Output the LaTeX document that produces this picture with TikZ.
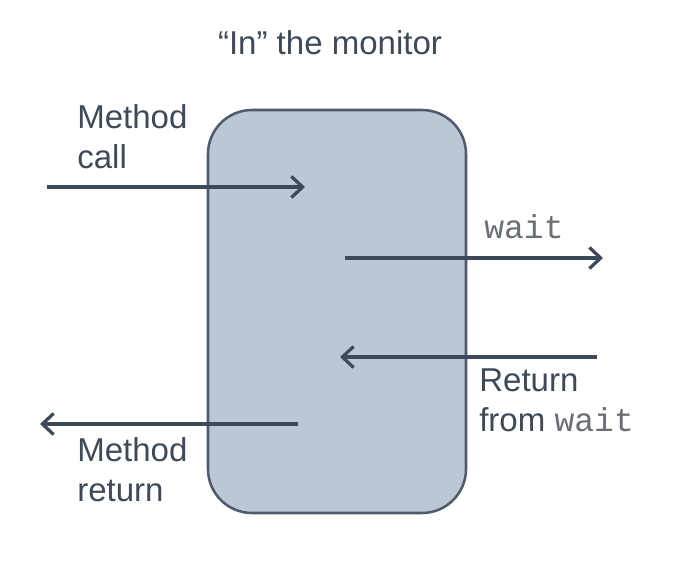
\documentclass[tikz,border=0pt]{standalone}
\usepackage{fontspec}
\setmainfont{Liberation Sans}
\setmonofont{Liberation Mono}
\usepackage{xcolor}
\definecolor{monfill}{HTML}{BDC6D3}
\definecolor{mondraw}{HTML}{4F5B6C}
\definecolor{flowcol}{HTML}{3D4859}
\definecolor{txtcol}{HTML}{3F4A59}
\definecolor{codecol}{HTML}{6A6E75}
\usetikzlibrary{arrows.meta,positioning}
\tikzset{
  lbl/.style={inner sep=0pt, align=left, text=txtcol, font=\fontsize{23.5pt}{29pt}\selectfont},
  flow/.style={-{Straight Barb[length=8pt,width=15pt,line width=2.3pt]}, line width=2.3pt, flowcol},
  monitor/.style={draw=mondraw, line width=1.8pt, fill=monfill, rounded corners=1.1cm, minimum width=6.45cm, minimum height=10.075cm}
}
\newcommand{\kw}[1]{{\ttfamily\color{codecol}#1}}

\begin{document}
\begin{tikzpicture}
  \useasboundingbox (0,0) rectangle (16.95,14.05);

  %% Title
  \node[lbl, anchor=base] (title) at (8.25,12.675) {“In” the monitor};

  %% The monitor
  \node[monitor] (mon) at (8.425,6.2625) {};

  %% Arrow ends
  \coordinate (callA) at (1.175,9.375);  \coordinate (callB) at (7.625,9.375);
  \coordinate (waitA) at (8.625,7.6);    \coordinate (waitB) at (15.075,7.6);
  \coordinate (backA) at (14.925,5.125); \coordinate (backB) at (8.5,5.125);
  \coordinate (retA)  at (7.45,3.45);    \coordinate (retB)  at (1.0,3.45);

  \draw[flow] (callA) -- (callB);
  \draw[flow] (waitA) -- (waitB);
  \draw[flow] (backA) -- (backB);
  \draw[flow] (retA) -- (retB);

  %% Labels
  \node[lbl, anchor=north west] (calltxt) at (1.925,11.45) {Method\\call};
  \node[lbl, anchor=base west]  (waittxt) at (12.1,8.1) {\kw{wait}};
  \node[lbl, anchor=north west] (backtxt) at (11.975,4.85) {Return\\from \kw{wait}};
  \node[lbl, anchor=north west] (rettxt)  at (1.925,3.125) {Method\\return};
\end{tikzpicture}
\end{document}
